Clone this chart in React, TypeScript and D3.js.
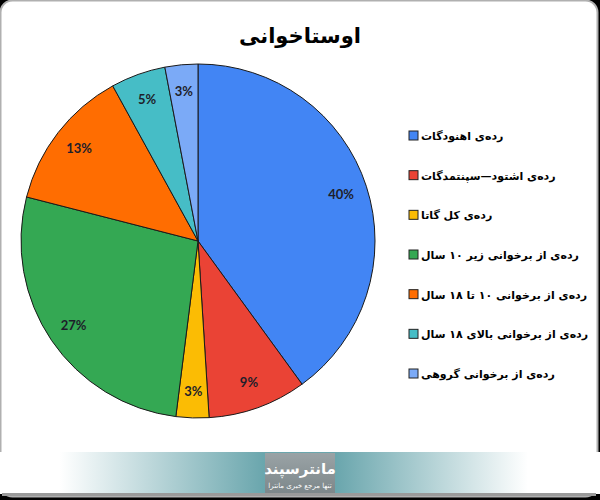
import React from "react";
import * as d3 from "d3";

const categories = [
  "رده‌ی اهنودگات",
  "رده‌ی اشتود—سپنتمدگات",
  "رده‌ی کل گاتا",
  "رده‌ی از برخوانی زیر ۱۰ سال",
  "رده‌ی از برخوانی ۱۰ تا ۱۸ سال",
  "رده‌ی از برخوانی بالای ۱۸ سال",
  "رده‌ی از برخوانی گروهی",
];
const values = [40, 9, 3, 27, 13, 5, 3];
const colors = ["#4285F4", "#EA4335", "#FBBC04", "#34A853", "#FF6D01", "#46BDC6", "#7BAAF7"];
const title = "اوستاخوانی";

export default function App() {
  const W = 600, H = 500;
  const cx = 198, cy = 241, r = 177;
  const pie = d3.pie<number>().sort(null).value((d) => d);
  const arcs = pie(values);
  const arc = d3.arc<d3.PieArcDatum<number>>().innerRadius(0).outerRadius(r);
  const labelArc = d3.arc<d3.PieArcDatum<number>>().innerRadius(r * 0.85).outerRadius(r * 0.85);
  const legendY = d3.scaleLinear().domain([0, categories.length - 1]).range([136, 374]);
  const arabic = "'DejaVu Sans', sans-serif";
  return (
    <svg width={W} height={H} style={{ position: "absolute", left: 0, top: 0 }}>
      <defs>
        <linearGradient id="band" x1="0" x2="1" y1="0" y2="0">
          <stop offset="0" stopColor="#ffffff" />
          <stop offset="0.1" stopColor="#ffffff" />
          <stop offset="0.44" stopColor="#6aa6ad" />
          <stop offset="0.56" stopColor="#6aa6ad" />
          <stop offset="0.88" stopColor="#ffffff" />
          <stop offset="1" stopColor="#ffffff" />
        </linearGradient>
        <linearGradient id="logo" x1="0" x2="0" y1="0" y2="1">
          <stop offset="0" stopColor="#9aa3a6" />
          <stop offset="1" stopColor="#7d878a" />
        </linearGradient>
      </defs>
      <rect x={0} y={0} width={W} height={H} fill="#000" />
      <rect x={0.5} y={0.5} width={597} height={496} rx={12} fill="#fff" stroke="#b0b0b0" strokeWidth={2} />
      <text x={300} y={43} textAnchor="middle" fontFamily={arabic} fontWeight="bold" fontSize={21} fill="#000">
        {title}
      </text>
      <g transform={`translate(${cx},${cy})`}>
        {arcs.map((a, i) => (
          <path key={i} d={arc(a) || ""} fill={colors[i]} stroke="#1a1a1a" strokeWidth={1} />
        ))}
        {arcs.map((a, i) => {
          const [x, y] = labelArc.centroid(a);
          return (
            <text key={"l" + i} x={x} y={y} dy="0.35em" textAnchor="middle" fontFamily="Lato, 'Open Sans', sans-serif" fontWeight="bold" fontSize={13} fill="#1e1e2a">
              {values[i]}%
            </text>
          );
        })}
      </g>
      <g>
        {categories.map((c, i) => (
          <g key={i} transform={`translate(0,${legendY(i)})`}>
            <rect x={409} y={-5} width={9} height={9} fill={colors[i]} stroke="#222" strokeWidth={1} />
            <text x={421} y={0} dy="0.35em" direction="rtl" unicodeBidi="embed" textAnchor="end" fontFamily={arabic} fontWeight="bold" fontSize={11} fill="#000">
              {c}
            </text>
          </g>
        ))}
      </g>
      <rect x={0} y={452} width={600} height={42} fill="url(#band)" />
      <rect x={2} y={493} width={594} height={3} fill="#9a9a9a" />
      <rect x={265} y={453} width={70} height={40} fill="url(#logo)" />
      <text x={300} y={474} textAnchor="middle" direction="rtl" fontFamily={arabic} fontWeight="bold" fontSize={15} fill="#fff">
        مانترسپند
      </text>
      <text x={300} y={488} textAnchor="middle" direction="rtl" fontFamily={arabic} fontSize={7} fill="#fff">
        تنها مرجع خبری مانترا
      </text>
    </svg>
  );
}
